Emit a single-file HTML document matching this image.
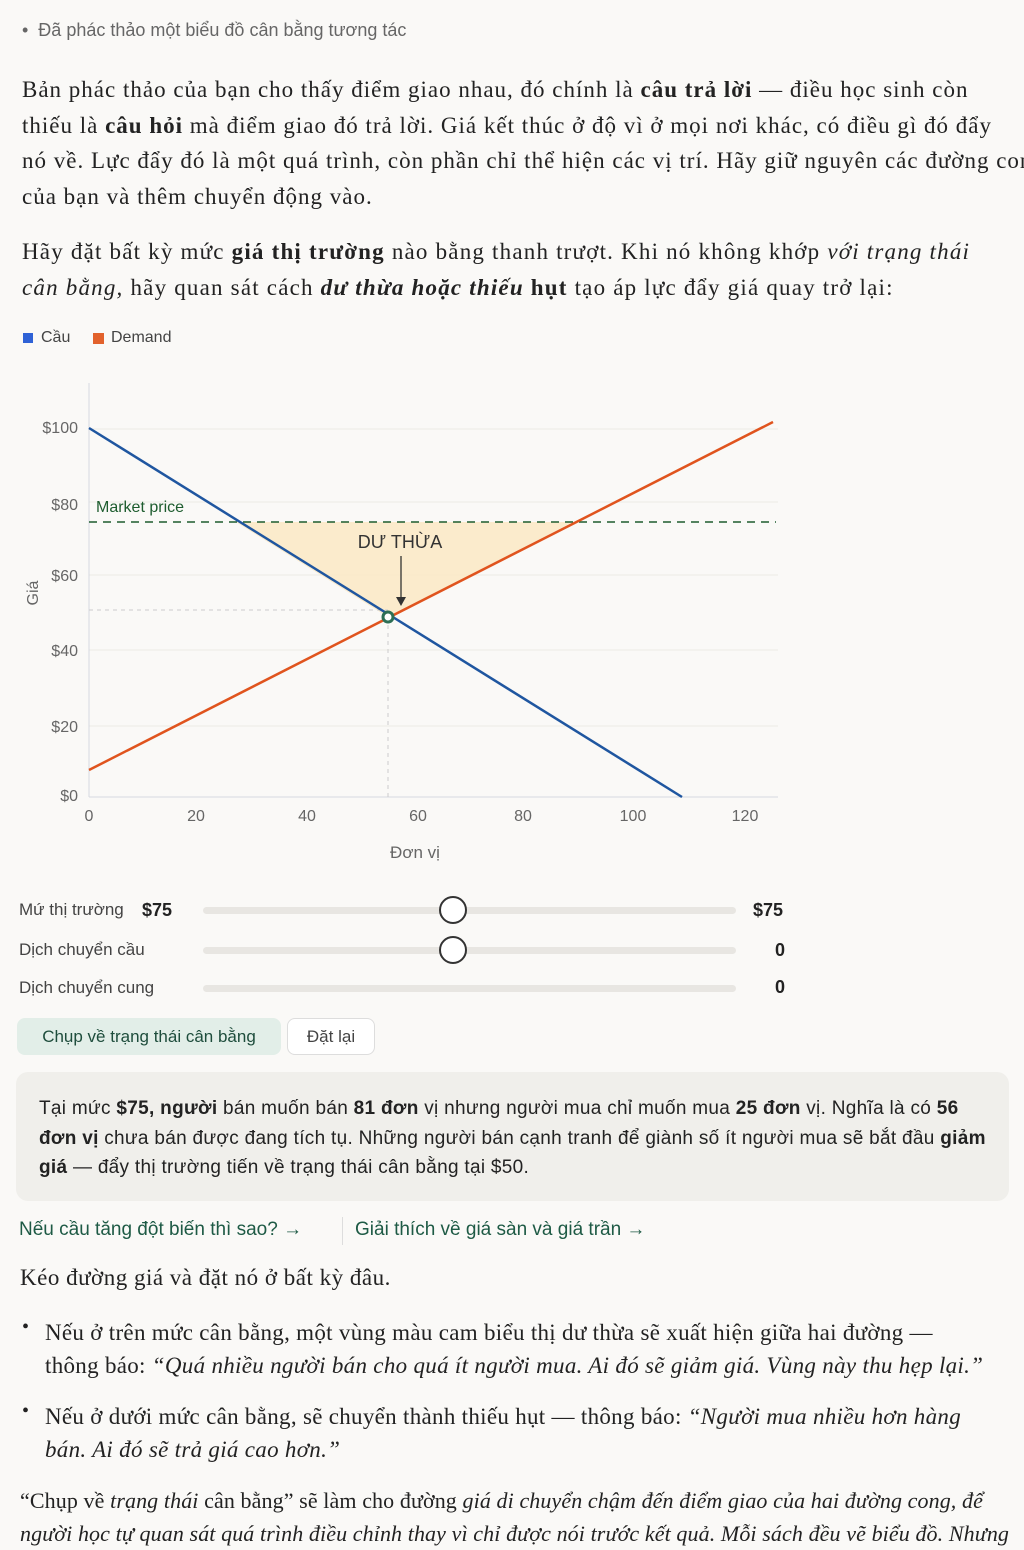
<!DOCTYPE html>
<html><head><meta charset="utf-8"><style>
body{margin:0;width:1024px;height:1536px;overflow:hidden;background:#faf9f7;color:#222;font-family:"Liberation Sans","Noto Sans CJK SC",sans-serif;position:relative}
.a{position:absolute;white-space:nowrap}
.serif{font-family:"Liberation Serif","Noto Serif CJK SC",serif;font-size:23px;color:#222}
.track{position:absolute;left:203px;width:533px;height:7px;border-radius:4px;background:#e8e6e2}
.knob{position:absolute;width:24px;height:24px;border:2px solid #333;border-radius:50%;background:#fff}
.lbl{font-size:17px;color:#444}
.val{font-size:18px;font-weight:bold;color:#222}
.link{color:#1e5a45;font-size:19px}
</style></head><body>
<div class="a" style="left:22px;top:20px;font-size:18px;color:#666">•&nbsp; Đã phác thảo một biểu đồ cân bằng tương tác</div>
<div class="a serif" style="left:22px;top:72px;line-height:35.5px;letter-spacing:1.0px">Bản phác thảo của bạn cho thấy điểm giao nhau, đó chính là <b>câu trả lời</b> — điều học sinh còn<br>thiếu là <b>câu hỏi</b> mà điểm giao đó trả lời. Giá kết thúc ở độ vì ở mọi nơi khác, có điều gì đó đẩy<br>nó về. Lực đẩy đó là một quá trình, còn phần chỉ thể hiện các vị trí. Hãy giữ nguyên các đường cong<br>của bạn và thêm chuyển động vào.</div>
<div class="a serif" style="left:22px;top:234px;line-height:36px;letter-spacing:1.2px">Hãy đặt bất kỳ mức <b>giá thị trường</b> nào bằng thanh trượt. Khi nó không khớp <i>với trạng thái</i><br><i>cân bằng,</i> hãy quan sát cách <i><b>dư thừa hoặc thiếu</b></i> <b>hụt</b> tạo áp lực đẩy giá quay trở lại:</div>
<div class="a" style="left:23px;top:333px;width:10px;height:10px;background:#2f62d6"></div>
<div class="a" style="left:41px;top:329px;font-size:16px;color:#444">Cầu</div>
<div class="a" style="left:93px;top:333px;width:11px;height:11px;background:#e2622c"></div>
<div class="a" style="left:111px;top:329px;font-size:16px;color:#444">Demand</div>
<svg class="a" style="left:0;top:0" width="1024" height="880">
<g stroke="#eceae6" stroke-width="1">
<line x1="89" x2="778" y1="429" y2="429"/><line x1="89" x2="778" y1="502" y2="502"/><line x1="89" x2="778" y1="575" y2="575"/><line x1="89" x2="778" y1="650" y2="650"/><line x1="89" x2="778" y1="726" y2="726"/>
</g>
<line x1="89" y1="383" x2="89" y2="797" stroke="#d6d9e0"/>
<line x1="89" y1="797" x2="778" y2="797" stroke="#d6d9e0"/>
<polygon points="236,522 573,522 388,617" fill="#fbe9c6" opacity="0.9"/>
<line x1="89" y1="610" x2="388" y2="610" stroke="#ccc" stroke-dasharray="4,4"/>
<line x1="388" y1="617" x2="388" y2="797" stroke="#ccc" stroke-dasharray="4,4"/>
<line x1="89" y1="522" x2="776" y2="522" stroke="#1d5c2e" stroke-width="1.5" stroke-dasharray="8,6"/>
<line x1="89" y1="428" x2="682" y2="797" stroke="#1f56a0" stroke-width="2.5"/>
<line x1="89" y1="770" x2="773" y2="422" stroke="#e0541e" stroke-width="2.5"/>
<line x1="401" y1="556" x2="401" y2="600" stroke="#333" stroke-width="1.3"/>
<polygon points="396,597 406,597 401,606" fill="#333"/>
<circle cx="388" cy="617" r="5" fill="#fff" stroke="#2d6f55" stroke-width="3"/>
<g font-family="Liberation Sans" font-size="16" fill="#666" text-anchor="end">
<text x="78" y="433">$100</text><text x="78" y="510">$80</text><text x="78" y="581">$60</text><text x="78" y="656">$40</text><text x="78" y="732">$20</text><text x="78" y="801">$0</text></g>
<g font-family="Liberation Sans" font-size="16" fill="#666" text-anchor="middle">
<text x="89" y="821">0</text><text x="196" y="821">20</text><text x="307" y="821">40</text><text x="418" y="821">60</text><text x="523" y="821">80</text><text x="633" y="821">100</text><text x="745" y="821">120</text></g>
<text x="415" y="858" font-family="Liberation Sans" font-size="17" fill="#666" text-anchor="middle">Đơn vị</text>
<text x="38" y="593" font-family="Liberation Sans" font-size="16" fill="#666" text-anchor="middle" transform="rotate(-90 38 593)">Giá</text>
<text x="96" y="512" font-family="Liberation Sans" font-size="16" fill="#1d5c2e">Market price</text>
<text x="400" y="548" font-family="Liberation Sans" font-size="18" fill="#333" text-anchor="middle">DƯ THỪA</text>
</svg>
<div class="a lbl" style="left:19px;top:900px">Mứ thị trường</div>
<div class="a val" style="left:142px;top:900px">$75</div>
<div class="track" style="top:907px"></div><div class="knob" style="left:439px;top:896px"></div>
<div class="a val" style="left:753px;top:900px">$75</div>
<div class="a lbl" style="left:19px;top:940px">Dịch chuyển cầu</div>
<div class="track" style="top:947px"></div><div class="knob" style="left:439px;top:936px"></div>
<div class="a val" style="left:775px;top:940px">0</div>
<div class="a lbl" style="left:19px;top:978px">Dịch chuyển cung</div>
<div class="track" style="top:985px"></div>
<div class="a val" style="left:775px;top:977px">0</div>
<div class="a" style="left:17px;top:1018px;width:264px;height:37px;border-radius:8px;background:#e2eee8;color:#1e4d3c;font-size:17px;line-height:37px;text-align:center">Chụp về trạng thái cân bằng</div>
<div class="a" style="left:287px;top:1018px;width:86px;height:35px;border:1px solid #ddd;border-radius:8px;background:#fff;color:#444;font-size:17px;line-height:35px;text-align:center">Đặt lại</div>
<div class="a" style="left:16px;top:1072px;width:993px;height:129px;border-radius:12px;background:#f0efeb"></div>
<div class="a" style="left:39px;top:1094px;font-size:19px;line-height:29.5px;color:#222;letter-spacing:0.3px">Tại mức <b>$75, người</b> bán muốn bán <b>81 đơn</b> vị nhưng người mua chỉ muốn mua <b>25 đơn</b> vị. Nghĩa là có <b>56</b><br><b>đơn vị</b> chưa bán được đang tích tụ. Những người bán cạnh tranh để giành số ít người mua sẽ bắt đầu <b>giảm</b><br><b>giá</b> — đẩy thị trường tiến về trạng thái cân bằng tại $50.</div>
<div class="a link" style="left:19px;top:1219px">Nếu cầu tăng đột biến thì sao? →</div>
<div class="a" style="left:342px;top:1217px;width:1px;height:28px;background:#ddd"></div>
<div class="a link" style="left:355px;top:1219px">Giải thích về giá sàn và giá trần →</div>
<div class="a serif" style="left:20px;top:1265px;letter-spacing:0.5px">Kéo đường giá và đặt nó ở bất kỳ đâu.</div>
<div class="a serif" style="left:22px;top:1316px;font-size:20px">•</div>
<div class="a serif" style="left:45px;top:1316px;line-height:33px;letter-spacing:0.3px">Nếu ở trên mức cân bằng, một vùng màu cam biểu thị dư thừa sẽ xuất hiện giữa hai đường —<br>thông báo: <i>“Quá nhiều người bán cho quá ít người mua. Ai đó sẽ giảm giá. Vùng này thu hẹp lại.”</i></div>
<div class="a serif" style="left:22px;top:1400px;font-size:20px">•</div>
<div class="a serif" style="left:45px;top:1400px;line-height:33px;letter-spacing:0.3px">Nếu ở dưới mức cân bằng, sẽ chuyển thành thiếu hụt — thông báo: <i>“Người mua nhiều hơn hàng</i><br><i>bán. Ai đó sẽ trả giá cao hơn.”</i></div>
<div class="a serif" style="left:20px;top:1484px;line-height:33px;font-size:22px;letter-spacing:0.1px">“Chụp về <i>trạng thái</i> cân bằng” sẽ làm cho đường <i>giá di chuyển chậm đến điểm giao của hai đường cong, để</i><br><i>người học tự quan sát quá trình điều chỉnh thay vì chỉ được nói trước kết quả. Mỗi sách đều vẽ biểu đồ. Nhưng</i></div>
</body></html>
